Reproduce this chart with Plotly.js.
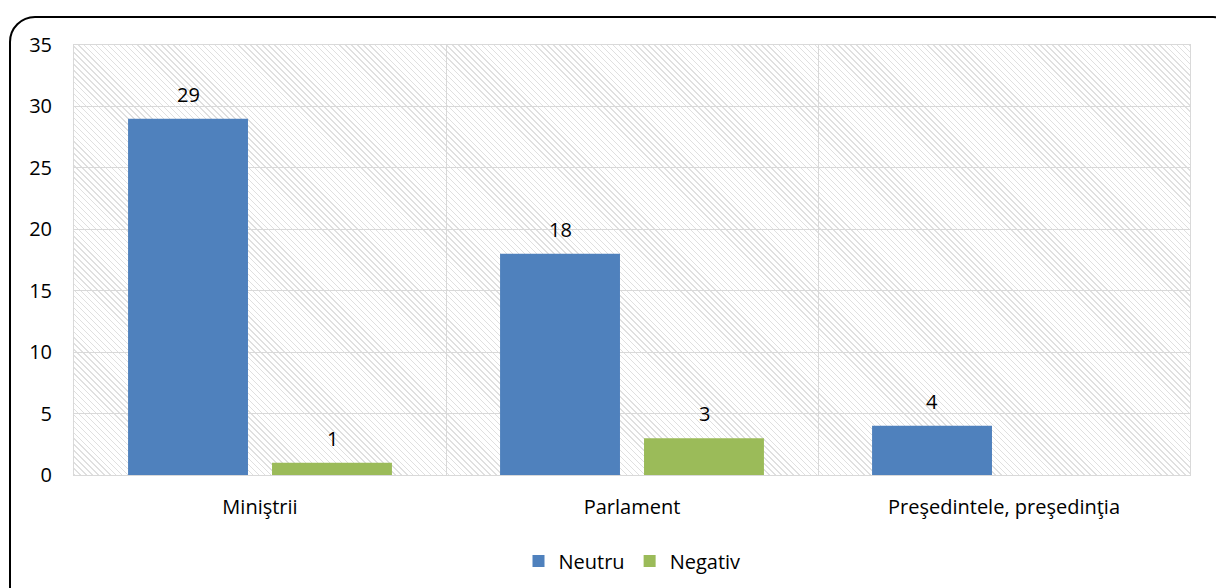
<!DOCTYPE html>
<html>
<head>
<meta charset="utf-8">
<script src="https://cdn.plot.ly/plotly-3.0.1.min.js"></script>
<style>
  html, body { margin: 0; padding: 0; background: #ffffff; overflow: hidden; }
  #wrap { position: relative; width: 1216px; height: 588px; }
  #hatch {
    position: absolute; left: 74px; top: 45px; width: 1116px; height: 430px;
    background: repeating-linear-gradient(45deg, #e0e0e0 0px, #e0e0e0 1px, rgba(255,255,255,0) 1px, rgba(255,255,255,0) 4.2px);
  }
  #frame {
    position: absolute; left: 9px; top: 16px; width: 1230px; height: 600px;
    border: 2px solid #000; border-radius: 26px; box-sizing: border-box; pointer-events: none;
  }
  #chart { position: absolute; left: 0; top: 0; width: 1216px; height: 588px; }
</style>
</head>
<body>
<div id="wrap">
  <div id="hatch"></div>
  <div id="chart"></div>
  <div id="frame"></div>
</div>
<script>
const categories = ["Miniştrii", "Parlament", "Preşedintele, preşedinţia"];
const neutru = [29, 18, 4];
const negativ = [1, 3, null];
const seriesNames = ["Neutru", "Negativ"];
const yTicks = [0, 5, 10, 15, 20, 25, 30, 35];

const colors = ["#4f81bd", "#9bbb59"];
const font = { family: "'Open Sans', 'Noto Sans', sans-serif", size: 20, color: "#000000" };

const traces = [
  { type: "bar", name: seriesNames[0], x: categories, y: neutru, marker: { color: colors[0] }, hoverinfo: "x+y" },
  { type: "bar", name: seriesNames[1], x: categories, y: negativ, marker: { color: colors[1] }, hoverinfo: "x+y" }
];

const annotations = [];
[neutru, negativ].forEach((vals, si) => {
  vals.forEach((v, i) => {
    if (v === null || v === undefined) return;
    annotations.push({
      x: categories[i], y: v, xref: "x", yref: "y",
      text: String(v), showarrow: false,
      xshift: si === 0 ? -72 : 72, yanchor: "bottom", yshift: 9,
      font: font
    });
  });
});

const layout = {
  width: 1216, height: 588,
  margin: { l: 74, r: 26, t: 45, b: 113, autoexpand: false },
  paper_bgcolor: "rgba(0,0,0,0)",
  plot_bgcolor: "rgba(0,0,0,0)",
  font: font,
  barmode: "group",
  bargap: 0.226,
  bargroupgap: 0.167,
  showlegend: true,
  legend: {
    orientation: "h", x: 0.5, xanchor: "center", y: -0.2, yanchor: "middle",
    font: font, itemwidth: 30, traceorder: "normal"
  },
  xaxis: {
    type: "category",
    tickson: "boundaries",
    showgrid: true, gridcolor: "#d9d9d9", gridwidth: 1,
    showline: true, linecolor: "#d9d9d9", linewidth: 1, mirror: true,
    ticks: "", ticklabelstandoff: 14, automargin: false,
    tickfont: font, fixedrange: true
  },
  yaxis: {
    range: [0, 35],
    tickvals: yTicks,
    showgrid: true, gridcolor: "#d9d9d9", gridwidth: 1,
    showline: true, linecolor: "#d9d9d9", linewidth: 1, mirror: true,
    zeroline: false, automargin: false,
    ticks: "", ticklabelstandoff: 17,
    tickfont: font, fixedrange: true
  },
  annotations: annotations
};

Plotly.newPlot("chart", traces, layout, { displayModeBar: false, staticPlot: true });
</script>
</body>
</html>
